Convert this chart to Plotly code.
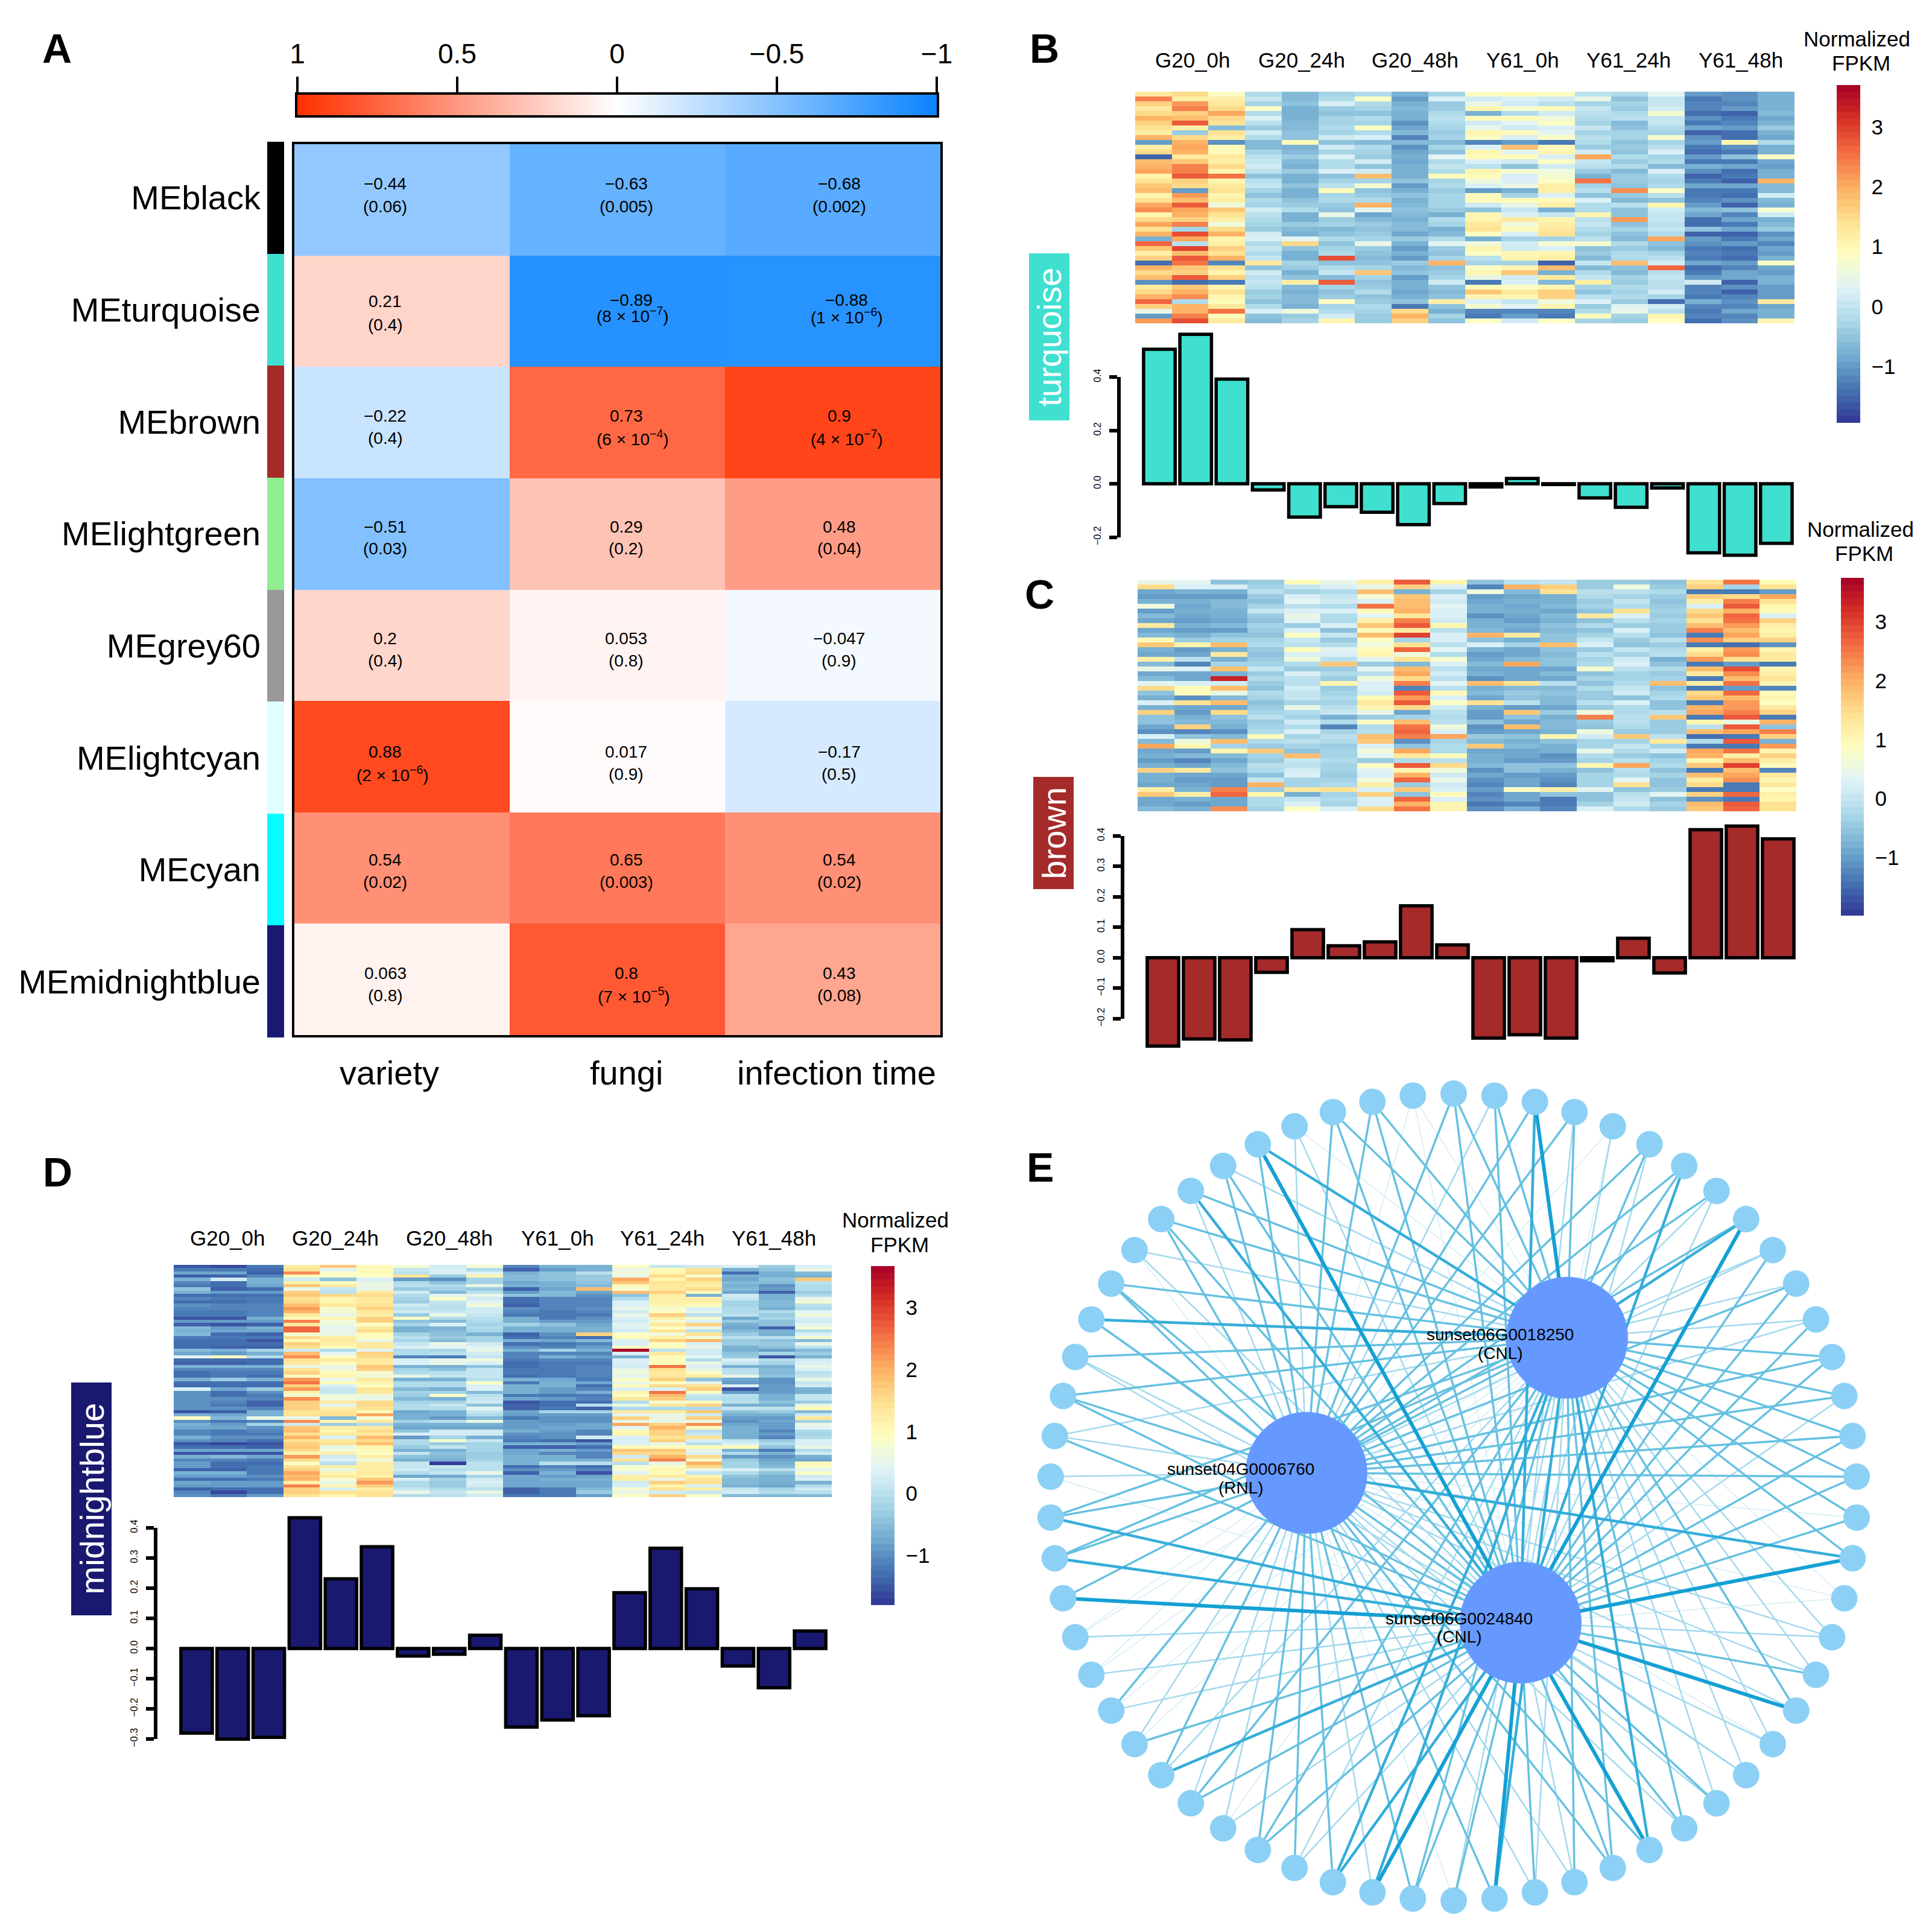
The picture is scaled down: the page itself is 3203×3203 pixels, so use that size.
import numpy as np
import plotly.graph_objects as go

# ---------- Panel A data ----------
MODULES = ["MEblack", "MEturquoise", "MEbrown", "MElightgreen", "MEgrey60", "MElightcyan", "MEcyan", "MEmidnightblue"]
MODULE_COLORS = ["#000000", "#40E0D0", "#A52A2A", "#90EE90", "#999999", "#E0FFFF", "#00FFFF", "#191970"]
TRAITS = ["variety", "fungi", "infection time"]
CORR = [[-0.44, -0.63, -0.68], [0.21, -0.89, -0.88], [-0.22, 0.73, 0.9], [-0.51, 0.29, 0.48],
        [0.2, 0.053, -0.047], [0.88, 0.017, -0.17], [0.54, 0.65, 0.54], [0.063, 0.8, 0.43]]
CORR_TEXT = [["−0.44", "−0.63", "−0.68"], ["0.21", "−0.89", "−0.88"], ["−0.22", "0.73", "0.9"], ["−0.51", "0.29", "0.48"],
             ["0.2", "0.053", "−0.047"], ["0.88", "0.017", "−0.17"], ["0.54", "0.65", "0.54"], ["0.063", "0.8", "0.43"]]
PVAL_TEXT = [["(0.06)", "(0.005)", "(0.002)"],
             ["(0.4)", "(8 × 10<sup>−7</sup>)", "(1 × 10<sup>−6</sup>)"],
             ["(0.4)", "(6 × 10<sup>−4</sup>)", "(4 × 10<sup>−7</sup>)"],
             ["(0.03)", "(0.2)", "(0.04)"], ["(0.4)", "(0.8)", "(0.9)"],
             ["(2 × 10<sup>−6</sup>)", "(0.9)", "(0.5)"], ["(0.02)", "(0.003)", "(0.02)"],
             ["(0.8)", "(7 × 10<sup>−5</sup>)", "(0.08)"]]
CB_TICKS = [1, 0.5, 0, -0.5, -1]
CB_LABELS = ["1", "0.5", "0", "−0.5", "−1"]

# ---------- Panels B/C/D data ----------
GROUPS = ["G20_0h", "G20_24h", "G20_48h", "Y61_0h", "Y61_24h", "Y61_48h"]
BARS_B = [.504, .56, .392, -.023, -.125, -.086, -.107, -.153, -.074, -.012, .02, -.003, -.053, -.088, -.016, -.259, -.268, -.223]
BARS_C = [-.29, -.267, -.27, -.048, .092, .039, .052, .17, .042, -.264, -.253, -.264, -.01, .064, -.05, .42, .432, .39]
BARS_D = [-.28, -.30, -.294, .433, .231, .337, -.025, -.019, .044, -.26, -.237, -.223, .185, .332, .198, -.058, -.13, .058]

# heatmap values in tenths of normalized FPKM
HEAT_B = [
[13,15,8,-2,-6,-3,-2,-7,-3,8,9,8,-1,-2,4,-10,-11,-8],[24,12,12,0,-6,-2,8,-10,3,1,3,2,5,-5,0,-13,-11,-8],
[16,22,13,-3,-5,3,-2,-7,-4,5,1,-1,-3,-3,0,-12,-12,-7],[13,24,15,8,-7,-4,-3,-6,-4,11,7,9,0,-4,1,-12,-10,-7],
[15,16,21,-2,-7,-5,-5,-8,-2,-7,-2,2,-1,-2,7,-14,-15,-6],[20,18,15,3,-8,-3,-2,-8,-1,9,9,6,-2,-1,0,-11,-13,-9],
[16,27,14,-1,-6,-3,-3,-11,-2,2,4,8,-3,-6,0,-13,-12,-7],[14,12,-6,-4,-6,-2,8,-9,-3,5,1,3,0,-5,-2,-9,-10,-4],
[12,-4,14,1,-5,-3,-2,-6,-4,11,9,4,-3,-3,-3,-15,-14,-8],[20,15,12,-2,-5,1,3,-12,-3,8,3,8,-1,-3,7,-11,-14,-9],
[-10,20,-11,-6,9,-5,-6,-6,-6,-12,-10,-13,-2,-5,-3,-10,10,-2],[12,21,9,-6,-7,2,-2,-11,-3,3,18,9,-4,-4,-1,-13,-11,-8],
[15,19,9,-3,-6,-3,-3,-9,-5,11,4,11,1,-5,3,-14,-13,-8],[-16,13,13,-1,-4,3,-4,-7,4,9,9,3,21,-2,-3,-10,-5,8],
[18,17,12,0,-6,-2,2,-9,-2,3,1,8,0,-4,-2,-13,-13,-9],[19,24,15,2,-7,-2,-5,-8,0,-1,-5,2,-1,-2,-6,-8,-9,-10],
[21,24,11,-1,-4,3,1,-8,-2,10,7,6,-4,-6,3,-11,-14,-8],[10,27,25,-5,-8,-5,18,-7,9,9,3,7,-7,-4,-2,-15,-13,-7],
[14,16,11,-1,-7,-3,-3,-5,-3,6,3,8,25,-4,-3,-13,-15,20],[17,15,13,0,-5,-1,7,-10,-2,3,5,12,-3,-5,-2,-9,-9,-6],
[18,-10,14,-3,-7,9,-5,-8,-4,-10,-8,12,-1,23,8,-13,-13,-6],[11,22,11,-5,-8,-3,-4,-5,-3,9,-3,3,-5,-4,-1,-13,-14,2],
[14,18,12,-2,-5,-2,-2,-8,-3,9,9,9,3,-6,-5,-12,-11,-6],[21,27,6,-3,-4,-4,20,-6,-3,2,5,12,-2,-1,10,-10,-15,-7],
[23,21,17,2,-2,-5,4,-5,-4,-5,0,-8,-2,-5,2,-6,-5,7],[11,20,14,-1,-7,5,-9,-6,-8,10,3,0,10,-5,0,-9,-12,2],
[15,16,12,-2,-7,-4,-6,-7,-2,11,13,11,-1,22,0,-14,-9,-8],[21,24,6,-3,-4,-3,-4,-6,-3,13,6,12,0,-5,-1,-14,-13,-6],
[14,-3,15,-4,-6,-6,-5,-6,-7,14,9,13,-2,-3,0,-5,-9,-4],[19,28,20,1,-7,-5,-4,-9,-6,8,3,14,-3,-5,-2,-15,-15,-11],
[-8,21,10,3,4,-2,-3,-4,-2,-7,-3,-3,-1,-6,21,-10,-13,-9],[26,-1,12,-2,15,-5,5,-8,4,6,1,7,7,-2,-5,-11,-10,-12],
[17,30,16,0,-5,-3,-4,-10,-4,10,2,3,-5,-4,-6,-13,-14,-9],[12,18,14,-2,-8,-2,-5,-8,-5,8,11,10,-4,-2,-3,-12,-13,-10],
[16,27,19,0,-7,28,-6,-10,-3,-1,11,12,-6,-2,-1,-13,-14,-8],[-14,25,-12,13,-3,-5,-5,-4,19,-3,-3,-15,0,18,2,-9,-10,8],
[20,17,14,-5,-4,-2,-3,-6,-5,8,10,18,-6,-5,26,-14,-12,-9],[15,16,10,1,-7,0,17,-5,-4,10,17,-8,-2,-6,-1,-13,-9,-10],
[18,27,16,-1,-5,-6,-3,-10,-3,5,1,13,0,-3,0,-10,-9,-8],[-11,-14,-13,0,12,27,-5,-7,1,-13,3,-6,12,-4,-1,1,-15,-8],
[13,17,10,-1,-6,-3,-4,-7,-5,9,8,10,-3,-2,-1,-12,-11,-10],[15,19,14,-4,-7,-5,-2,-9,-6,17,13,16,-5,-3,1,-12,-15,-10],
[19,23,11,-3,-6,-4,-5,-7,-5,11,10,16,-1,-2,-3,-13,-12,-10],[26,-2,9,-5,-6,8,-4,-5,12,3,0,6,3,-4,-14,-7,-11,13],
[16,19,13,-2,-8,-3,-2,-13,-5,7,4,11,-4,4,2,-12,-12,-9],[5,20,25,3,6,-2,-3,15,-7,-12,-12,-12,-2,5,-1,-13,-9,-7],
[-10,24,9,-5,-4,1,-4,19,-3,-13,-10,-13,9,-3,10,-12,-12,-8],[22,28,13,-6,-3,11,-4,16,-5,8,1,8,-3,-4,8,-14,-11,10]]

HEAT_C = [
[5,4,-5,-4,9,5,12,28,10,-6,-1,0,-4,-4,-5,14,25,9],[15,3,3,-3,0,3,5,16,3,-12,20,16,-4,6,-4,16,-3,14],
[-9,-8,-8,-1,-3,-2,18,-8,-3,6,-7,14,-1,-1,-2,-13,-14,-10],[-10,-10,-10,-4,3,0,7,17,2,-10,-9,-8,-2,-3,-4,16,15,21],
[-8,-8,-7,-5,4,1,3,19,1,-9,-8,-8,-4,0,-5,12,24,14],[6,-9,-7,-3,-1,-2,25,18,4,-8,-9,-7,-3,-2,-4,3,28,10],
[-10,-8,-8,0,3,2,9,20,3,-8,-8,-9,-5,14,-3,15,20,9],[-7,-9,-8,-4,5,-2,4,13,3,-11,-9,-7,13,3,-4,17,26,3],
[-9,-10,-9,-5,4,-2,12,24,1,-8,-10,-8,-6,-1,-3,14,25,16],[13,-8,-7,-3,-4,3,17,28,10,-8,-8,-5,-2,-4,-4,19,22,12],
[-9,-10,-10,-4,3,-6,9,13,-1,-7,-9,-7,-5,2,-4,24,19,10],[-7,-8,-6,-6,8,0,19,30,2,20,13,-6,-3,-1,-6,-13,21,12],
[9,-4,-3,-3,0,-4,8,-3,3,-6,-8,-5,0,-4,-1,23,16,16],[17,10,18,-2,-1,-2,6,14,-1,3,-3,18,2,-5,-4,-14,-15,-11],
[-8,-10,-8,-4,9,4,9,26,4,-8,-9,-6,-4,0,-2,12,22,11],[-9,-9,13,-5,2,2,11,6,-2,-10,-9,-7,-1,-3,-1,15,23,13],
[12,-1,-8,-4,6,-1,4,14,7,-9,-7,-5,-3,1,-8,22,14,13],[-7,-12,-3,-3,-2,17,-4,-7,3,-7,21,-6,-2,2,-5,-14,-10,-13],
[5,3,18,0,-4,-4,4,19,-1,-9,-9,-9,7,-1,-2,18,29,10],[-9,-9,-8,-4,3,-2,-1,21,1,-8,-9,-7,-5,-3,-4,13,23,12],
[-7,-9,33,-2,-1,-4,6,15,-1,-11,-9,-9,-3,-3,-3,-13,18,14],[4,2,1,-4,-1,11,2,24,4,18,14,-1,-6,-2,18,12,25,10],
[15,9,18,-5,1,-4,3,-12,-1,-8,-7,-7,-2,0,-5,-13,-10,-12],[-5,9,5,-2,0,-3,1,28,9,-7,-4,-6,-4,1,-3,15,26,9],
[-8,-11,-7,-3,0,-2,9,22,2,-9,-5,-7,-4,-5,-2,17,19,10],[3,14,19,-5,-3,-3,13,28,8,14,-1,-7,-1,3,-5,-14,22,8],
[-8,-9,-9,-4,5,-1,10,15,1,-8,-10,-9,-4,-2,-6,20,22,13],[16,-10,15,-3,-2,0,5,-9,-1,-10,17,-4,6,-2,-1,21,24,16],
[-6,-8,-6,-1,-3,-8,-4,-3,-2,-10,-5,-8,24,-1,17,-14,28,-13],[-6,-7,-7,-4,1,-2,8,18,-1,-6,-9,-7,-4,-1,-4,10,5,20],
[-9,16,-8,-3,-2,-12,-2,25,6,-11,19,-7,-5,-2,-4,-1,28,-5],[-11,-12,-11,-2,2,-3,-1,26,3,-10,-9,-8,6,-4,-4,18,21,24],
[2,-5,-7,9,-3,-1,18,24,21,-4,-5,10,1,17,-1,-15,-14,16],[-7,6,18,-2,-1,-2,17,-11,-3,-7,-8,-6,-3,-3,13,-2,28,-8],
[21,10,-3,-4,-3,-4,2,-6,-2,17,-7,-8,-3,0,-3,-14,-13,22],[-9,-10,10,17,-5,-3,6,21,-2,-9,-9,-8,5,-2,1,21,25,11],
[-8,-7,-7,-3,19,-3,4,13,9,-8,-9,-11,-2,-4,-5,20,12,16],[-10,-12,-9,-4,0,-2,-4,-2,-1,-8,-10,-10,-3,-1,-3,11,19,12],
[-8,-9,-7,-1,-1,-3,8,28,15,-7,-5,-5,10,21,-2,17,30,9],[16,13,-5,-2,1,-3,4,10,6,-11,-6,-8,-6,-1,-5,-13,18,-12],
[-8,-9,-9,-5,3,-4,2,20,1,-9,-10,-10,-3,-2,-3,18,21,13],[-8,-10,-10,0,-3,-3,6,26,5,-11,-9,-11,-3,4,-5,12,23,11],
[-9,-9,-10,20,-3,-2,12,-4,1,-12,-9,-12,-3,14,-5,15,-14,13],[12,-8,24,-4,13,14,3,17,3,-10,8,12,4,-6,-4,-13,-14,8],
[17,12,26,10,-8,-3,16,-5,9,-12,-9,-6,-6,-1,4,16,26,12],[-9,-8,-9,-2,0,-2,3,26,3,-11,-9,-13,-5,0,-5,-11,-14,10],
[-9,-10,-9,-2,3,-3,3,20,10,-13,-12,-14,-3,1,-3,18,28,14],[-7,-8,23,-3,8,2,15,25,10,-11,-8,-12,2,-2,-4,17,26,14]]

HEAT_D = [
[-15,-16,-12,12,18,10,8,2,8,-11,-6,-7,9,1,2,3,-3,3],[-12,-12,-13,14,4,10,1,3,-1,-14,-9,-7,5,10,14,-7,-4,6],
[-8,-8,-14,23,9,10,0,3,4,-7,-4,0,7,11,15,-13,-7,-5],[-14,-14,-11,10,9,9,14,-3,11,-5,-4,-3,5,15,8,-7,-6,-6],
[-6,2,-6,2,-4,3,-9,-10,-2,-5,-4,-3,21,11,17,-8,-4,18],[-11,-13,-7,12,9,6,-1,-4,-2,-8,-6,-4,18,14,13,-5,-5,0],
[-12,-13,-8,18,13,6,0,-1,5,-7,-7,-5,10,13,12,-6,-10,-1],[-4,-14,-13,6,1,5,-3,-2,-3,-14,-8,19,8,13,15,-5,-9,-1],
[-7,-9,-9,16,0,13,2,-5,0,-9,-5,-8,19,16,10,-8,-14,-3],[-13,-13,-13,18,15,15,-1,4,5,-4,-5,-10,-4,12,-6,2,-6,-1],
[-11,-12,-12,14,11,13,-2,9,2,-13,-11,-11,-1,12,12,1,-7,6],[-13,-13,-12,15,11,13,-3,1,4,-13,-11,-11,3,12,12,-2,-5,8],
[-10,-11,-11,19,13,14,2,0,7,-14,-11,-11,3,11,10,-2,-5,0],[-11,-11,-11,22,8,16,0,0,2,-10,-11,-10,5,8,3,-1,-6,-1],
[-12,-12,-11,20,8,13,2,1,2,-11,-12,-11,2,9,4,-1,-1,4],[-12,-12,-11,13,5,12,-3,5,1,-12,-12,-12,6,17,0,0,-3,7],
[-15,-15,-6,10,11,17,9,-1,0,-6,-12,-10,3,12,8,-8,-2,3],[-9,-9,-9,24,7,16,-4,-5,-1,-7,-9,-9,2,8,3,-3,-4,2],
[-14,-15,-14,13,7,9,-2,3,-2,-2,-4,-8,4,13,17,-6,-4,4],[-5,-9,-6,26,4,13,-6,-7,-1,-6,-7,-7,3,9,5,-8,-14,8],
[-6,-8,-8,26,5,15,-6,-5,-2,-7,-7,-7,2,14,0,-5,-7,-1],[-5,-13,-14,8,5,10,-2,-4,-7,-14,-10,17,9,7,14,-3,-6,3],
[-12,-12,-12,15,12,10,0,-3,-2,-13,-11,-13,10,12,7,0,0,8],[-13,-13,-15,10,13,5,-2,-5,-2,-6,-8,-5,3,17,20,-3,-4,-5],
[-13,-13,-13,16,12,13,1,5,2,-13,-12,-11,3,9,3,-3,-3,5],[-13,-14,-14,14,10,13,3,4,4,-10,-11,-9,9,10,5,-6,-4,0],
[-5,-7,-2,2,-1,4,-1,-2,6,-7,-2,-6,36,0,2,-6,-9,-5],[-8,-9,-6,19,4,17,-1,0,2,-11,-11,-11,3,13,2,-4,-2,-3],
[4,9,-1,23,9,15,-11,-12,1,-11,-6,-9,-6,10,4,-3,-15,-6],[-13,-13,-13,14,13,13,3,5,7,-12,-11,-11,3,10,-1,3,-1,2],
[-14,-14,-13,13,10,13,3,5,3,-13,-12,-12,3,10,5,1,-2,3],[-6,-6,-7,5,6,18,-7,-6,-4,-13,-12,-11,2,25,3,-6,-7,6],
[-11,-11,-11,14,7,17,-2,-4,1,-12,-12,-11,6,14,5,0,-5,3],[-13,-12,-12,17,10,8,-1,0,1,-12,-12,-11,7,13,9,0,-5,0],
[-13,-12,-13,9,11,7,5,1,1,-13,-12,-11,4,13,13,6,-4,1],[-7,-3,-7,22,5,13,-6,-6,0,-7,-8,-12,9,16,-4,-8,-10,6],
[-13,-13,-13,25,10,11,-1,-1,9,-12,-7,-8,6,9,6,-9,-10,1],[-13,-13,-13,16,3,9,-1,-1,3,-7,-7,-13,10,15,14,3,-9,2],
[3,-8,-3,22,1,14,-5,-6,3,-6,-9,-11,3,3,16,-15,-9,-6],[-10,-13,-10,11,1,13,-2,-2,-5,-6,-9,-6,11,25,9,-9,-9,-7],
[-10,-13,-12,8,7,7,-3,9,0,-12,-12,-12,9,19,1,0,-6,1],[-10,-10,-11,23,7,6,-5,-6,1,-8,-9,-11,13,16,0,-1,-7,1],
[-10,-11,-14,16,13,15,-2,-2,2,-15,-13,-13,-1,8,9,0,-4,-3],[-10,-12,-14,16,4,15,-1,1,-4,-14,-13,0,6,13,16,-6,-6,5],
[-10,-10,-11,17,12,14,-1,-1,4,-14,-12,-14,-1,-1,-1,1,0,10],[-15,-14,-7,14,14,10,-8,-6,1,-8,-2,-2,13,13,18,-4,-3,-5],
[-6,-8,-7,14,14,21,-6,-7,-1,-9,-9,-9,4,6,2,-7,-7,2],[9,-5,5,5,-5,8,-7,-9,-5,-12,-10,-10,17,6,17,-9,-9,13],
[-10,-12,-11,23,11,13,-2,0,6,-9,-10,-10,6,6,6,-10,-8,-2],[-6,-9,-2,2,-3,-1,-7,-7,-7,-9,-9,-8,21,16,23,-8,-9,6],
[-8,-8,-10,18,12,13,-8,-8,-8,-9,-8,-8,4,20,10,-6,-9,4],[-11,-12,-11,19,11,15,-4,2,2,-6,-9,-11,10,16,0,-7,-11,-1],
[-11,-12,-12,14,13,13,3,2,2,-10,-10,-11,11,16,1,-6,-9,-2],[-6,-10,-10,20,3,19,-9,-2,-6,-11,-10,2,3,14,14,-7,-11,-1],
[-10,-11,-13,14,13,15,-1,8,1,-12,-13,-15,3,16,3,1,-3,3],[-15,-16,-15,16,14,19,-1,-3,-2,-6,-6,-9,3,6,0,3,-1,3],
[-13,-13,-14,18,6,11,-3,1,-2,-14,-14,-13,10,10,10,10,-4,5],[-8,-8,-8,15,7,10,-6,-6,-2,-8,-7,-9,18,18,6,-7,-12,-1],
[-15,-15,-15,11,12,9,1,-4,-3,-8,-11,-11,15,15,3,-1,-7,2],[-7,-5,-8,22,2,12,-4,-5,-3,-7,-6,-11,2,20,15,-9,-10,-6],
[-11,-11,-12,15,3,7,-6,-6,-2,-7,-6,-7,14,24,8,-3,-8,-8],[-9,-13,-13,9,0,12,1,-17,0,-7,0,0,0,6,20,-2,-6,10],
[-9,-13,-12,14,12,12,1,1,0,-13,-11,-13,8,9,15,-2,-5,9],[-14,-14,-12,17,6,12,2,-1,0,-10,-9,-11,8,11,6,3,0,4],
[-7,-6,-12,21,11,13,-1,1,6,-14,-7,-15,4,10,1,-1,-4,9],[-9,-9,-10,19,13,12,-8,-8,-2,-8,-9,-8,12,13,11,-4,-7,2],
[-13,-13,-12,20,8,18,3,-2,2,-8,-7,-7,12,6,14,-5,-7,3],[-8,-9,-9,12,5,22,-1,-3,3,-8,-8,-8,2,17,14,-5,-6,-7],
[-9,-9,-9,24,11,17,-1,-3,2,-8,-8,-8,3,11,3,-6,-8,-1],[-14,-13,-13,17,3,12,1,-1,0,-14,-12,-5,8,14,12,1,-2,2],
[-11,-16,-13,17,14,14,6,1,6,-14,-12,-3,5,2,1,2,-1,0],[-10,-12,-9,14,11,14,-1,0,2,-12,-12,-9,9,17,9,-5,-5,-5]]

# ---------- Panel E data ----------
HUB_X = [0.281, -0.365, 0.166]
HUB_Y = [0.395, 0.060, -0.311]
HUB_NAMES = ["sunset06G0018250", "sunset04G0006760", "sunset06G0024840"]
HUB_TYPES = ["(CNL)", "(RNL)", "(CNL)"]
# edge strength (0-5) from each of the 62 outer genes, clockwise from the top, to each hub
EDGE_H1 = [3,3,5,3,1,3,3,2,4,2,2,2,3,3,3,3,3,3,1,2,2,3,2,2,2,3,4,3,3,2,4,2,3,4,4,2,3,1,3,2,1,1,1,1,3,3,3,0,2,3,3,4,3,2,3,3,2,4,1,3,3,1]
EDGE_H2 = [3,2,3,3,1,3,3,3,3,2,3,2,3,3,3,3,1,4,1,2,2,2,1,2,2,2,3,3,2,2,3,1,3,2,3,3,3,2,2,3,2,3,1,1,2,3,3,2,2,3,2,3,3,1,3,2,3,3,2,3,3,1]
EDGE_H3 = [3,3,4,2,2,2,4,2,5,3,3,3,3,2,3,3,3,5,1,2,3,5,2,2,3,3,5,3,2,3,5,3,3,5,4,2,3,2,3,4,3,2,2,2,5,4,4,1,3,3,2,3,3,2,3,4,3,5,2,3,3,1]

# the page body keeps an 8px margin, so the figure is 3187px placed at (8, 8)
W = 3187
PAD = 8
FONT = "Liberation Sans"
OV = 2.04  # reference overview px to page px


def fx(p):
    return (p - PAD) / W


def fy(p):
    return 1 - (p - PAD) / W


def dx(a, b):
    return [fx(a), fx(b)]


def dy(top, bottom):
    return [fy(bottom), fy(top)]


RDYLBU = ["#313695", "#4575B4", "#74ADD1", "#ABD9E9", "#E0F3F8", "#FFFFBF", "#FEE090", "#FDAE61", "#F46D43", "#D73027", "#A50026"]


def stepped(n=50):
    rgb = np.array([[int(c[i:i + 2], 16) for i in (1, 3, 5)] for c in RDYLBU], float)
    out = []
    for i in range(n):
        t = (i + 0.5) / n * 10
        k = min(int(t), 9)
        c = rgb[k] + (rgb[k + 1] - rgb[k]) * (t - k)
        s = "rgb(%d,%d,%d)" % tuple(c)
        out += [[i / n, s], [(i + 1) / n, s]]
    return out


HEAT_SCALE = stepped()
CORR_SCALE = [[0, "#0A84FF"], [0.5, "#FFFFFF"], [1, "#FF3000"]]

fig = go.Figure()
layout = {}
HIDE = dict(visible=False, fixedrange=True)


def axes(n, xd, yd, xkw=None, ykw=None):
    s = "" if n == 1 else str(n)
    xk = dict(HIDE)
    yk = dict(HIDE)
    xk.update(domain=xd, anchor="y" + s)
    yk.update(domain=yd, anchor="x" + s)
    xk.update(xkw or {})
    yk.update(ykw or {})
    layout["xaxis" + s] = xk
    layout["yaxis" + s] = yk
    return "x" + s, "y" + s


notes = []
shapes = []


def note(text, x, y, size, color="black", angle=0, bold=False, family=FONT):
    notes.append(dict(text="<b>%s</b>" % text if bold else text, x=fx(x), y=fy(y), xref="paper", yref="paper",
                      xanchor="center", yanchor="middle", showarrow=False, textangle=angle,
                      font=dict(family=family, size=size, color=color)))


# ---------- Panel A ----------
xa, ya = axes(1, dx(488, 1559), dy(239, 1716),
              dict(visible=True, showline=True, mirror=True, linewidth=4, linecolor="black", showticklabels=False, ticks="", showgrid=False, zeroline=False, range=[-0.5, 2.5]),
              dict(visible=True, showline=True, mirror=True, linewidth=4, linecolor="black", showticklabels=False, ticks="", showgrid=False, zeroline=False, range=[7.5, -0.5]))
fig.add_trace(go.Heatmap(z=CORR, x=[0, 1, 2], y=list(range(8)), zmin=-1, zmax=1, colorscale=CORR_SCALE, showscale=False, hoverinfo="skip", xaxis=xa, yaxis=ya))

strip_scale = []
for i, c in enumerate(MODULE_COLORS):
    strip_scale += [[i / 8, c], [(i + 1) / 8, c]]
xs, ys = axes(2, dx(443, 471), dy(235, 1720), None,
              dict(visible=True, showline=False, ticks="", showgrid=False, zeroline=False, autorange="reversed", type="category",
                   ticklabelstandoff=10, tickfont=dict(family=FONT, size=56, color="black")))
fig.add_trace(go.Heatmap(z=[[i] for i in range(8)], y=MODULES, x=[0], zmin=-0.5, zmax=7.5, colorscale=strip_scale, showscale=False, hoverinfo="skip", xaxis=xs, yaxis=ys))

xc, yc = axes(3, dx(493, 1553), dy(157, 191),
              dict(visible=True, side="top", range=[1, -1], showline=True, mirror=True, linewidth=4, linecolor="black", ticks="outside", ticklen=26, tickwidth=4,
                   tickcolor="black", tickvals=CB_TICKS, ticktext=CB_LABELS, showgrid=False, zeroline=False, ticklabelstandoff=4, tickfont=dict(family=FONT, size=46, color="black")),
              dict(visible=True, showline=True, mirror=True, linewidth=4, linecolor="black", ticks="", showticklabels=False, showgrid=False, zeroline=False, range=[-0.5, 0.5]))
cb_x = np.linspace(1, -1, 201)
fig.add_trace(go.Heatmap(z=[cb_x], x=cb_x, y=[0], zmin=-1, zmax=1, colorscale=CORR_SCALE, showscale=False, hoverinfo="skip", xaxis=xc, yaxis=yc))

R_X = [[313, 509, 682], [313, 513, 688], [313, 509, 682], [313, 509, 682], [313, 509, 682], [313, 509, 682], [313, 509, 682], [313, 509, 682]]
P_X = [[313, 509, 682], [313, 514, 688], [313, 514, 688], [313, 509, 682], [313, 509, 682], [319, 509, 682], [313, 509, 682], [313, 515, 682]]
R_Y = [[149.5] * 3, [245, 244, 244], [338] * 3, [428] * 3, [519] * 3, [611] * 3, [699] * 3, [791] * 3]
P_Y = [[168] * 3, [264, 256, 257], [356] * 3, [446] * 3, [537] * 3, [629] * 3, [717] * 3, [809] * 3]
for r in range(8):
    for c in range(3):
        note(CORR_TEXT[r][c], R_X[r][c] * OV, R_Y[r][c] * OV, 28)
        note(PVAL_TEXT[r][c], P_X[r][c] * OV, P_Y[r][c] * OV, 28)
for t, x in zip(TRAITS, [645, 1038, 1387]):
    note(t, x, 1778, 56)


# ---------- Panels B, C, D ----------
def panel(n, heat, bars, color, hx, hy, bx, y0, unit, yrange, spine_x, spine_ticks, cbx, cby, zr, label_x, label_y, side_box, side_text, norm_pos):
    x1, y1 = axes(n, dx(*hx), dy(*hy), dict(range=[-0.5, 17.5]), dict(range=[len(heat) - 0.5, -0.5]))
    fig.add_trace(go.Heatmap(z=(np.array(heat) / 10.0).tolist(), zmin=zr[0], zmax=zr[1], colorscale=HEAT_SCALE, hoverinfo="skip", xaxis=x1, yaxis=y1,
                             colorbar=dict(x=fx(cbx[0]), xanchor="left", xpad=0, ypad=0, thicknessmode="pixels", thickness=cbx[1] - cbx[0],
                                           lenmode="pixels", len=cby[1] - cby[0], y=fy((cby[0] + cby[1]) / 2), yanchor="middle",
                                           outlinewidth=0, tickvals=[-1, 0, 1, 2, 3], ticktext=["−1", "0", "1", "2", "3"], ticks="outside", ticklen=12,
                                           tickcolor="rgba(0,0,0,0)", tickfont=dict(family=FONT, size=35, color="black"))))
    top = y0 - yrange[1] * unit
    bot = y0 - yrange[0] * unit
    x2, y2 = axes(n + 1, dx(*bx), dy(top, bot), dict(range=[-0.5, 17.5]), dict(range=yrange))
    fig.add_trace(go.Bar(x=list(range(18)), y=bars, marker=dict(color=color, line=dict(color="black", width=5.5)), hoverinfo="skip", xaxis=x2, yaxis=y2, showlegend=False))
    # short R-style axis spanning only the tick range
    s = {4: 10, 6: 11, 8: 12}[n]
    x3, y3 = axes(s, dx(*bx), dy(y0 - spine_ticks[-1] * unit, y0 - spine_ticks[0] * unit), dict(range=[-0.5, 17.5]),
                  dict(visible=True, anchor="free", position=fx(spine_x), range=[spine_ticks[0], spine_ticks[-1]], showline=True, linewidth=5.5, linecolor="black",
                       ticks="outside", ticklen=13, tickwidth=5.5, tickcolor="black", tickvals=spine_ticks, ticktext=[("%.1f" % v).replace("-", "−") for v in spine_ticks],
                       tickangle=-90, showgrid=False, zeroline=False, ticklabelstandoff=8, tickfont=dict(family=FONT, size=16, color="black")))
    fig.add_trace(go.Scatter(x=[None], y=[None], mode="markers", hoverinfo="skip", showlegend=False, xaxis=x3, yaxis=y3))
    if label_x:
        for g, lx in zip(GROUPS, label_x):
            note(g, lx, label_y, 35)
    shapes.append(dict(type="rect", xref="paper", yref="paper", x0=fx(side_box[0]), x1=fx(side_box[1]), y0=fy(side_box[2]), y1=fy(side_box[3]), fillcolor=color, line=dict(width=0), layer="below"))
    note(side_text, (side_box[0] + side_box[1]) / 2, (side_box[2] + side_box[3]) / 2, 56, color="white", angle=-90)
    note("Normalized", norm_pos[0], norm_pos[1], 35)
    note("FPKM", norm_pos[2], norm_pos[3], 35)


panel(4, HEAT_B, BARS_B, "#40E0D0", (1882, 2975), (152, 536), (1892, 2975), 802, 442.5, [-0.3, 0.6], 1855, [-0.2, 0, 0.2, 0.4],
      (3045, 3084), (141, 701), (-1.94, 3.70), [1977, 2158, 2346, 2524, 2700, 2886], 100, (1706, 1773, 420, 697), "turquoise", (3078, 64, 3085, 105))
panel(6, HEAT_C, BARS_C, "#A52A2A", (1886, 2978), (961, 1345), (1898, 2978), 1587.7, 505, [-0.3, 0.45], 1861, [-0.2, -0.1, 0, 0.1, 0.2, 0.3, 0.4],
      (3052, 3090), (958, 1518), (-1.98, 3.74), None, None, (1713, 1780, 1288, 1474), "brown", (3084, 877, 3090, 918))
panel(8, HEAT_D, BARS_D, "#191970", (288, 1379), (2097, 2482), (296, 1373), 2733, 500.5, [-0.35, 0.45], 258, [-0.3, -0.2, -0.1, 0, 0.1, 0.2, 0.3, 0.4],
      (1444, 1483), (2099, 2661), (-1.80, 3.67), [377, 556, 745, 924, 1098, 1283], 2052, (118, 185, 2292, 2678), "midnightblue", (1484, 2022, 1491, 2063))

# ---------- Panel E ----------
CX, CY, R = 2410, 2482, 669
xn, yn = axes(13, dx(CX - 750, CX + 750), dy(CY - 710, CY + 710), dict(range=[-750 / R, 750 / R]), dict(range=[-710 / R, 710 / R]))
angles = np.deg2rad(90 - np.arange(62) * 360 / 62)
NX, NY = np.cos(angles), np.sin(angles)
EDGE_STYLE = {1: ("#D3EDF6", 1.5), 2: ("#A2D9ED", 2.5), 3: ("#66C1E1", 3.5), 4: ("#35ADD9", 4.5), 5: ("#14A0D4", 6)}
for level, (col, wid) in EDGE_STYLE.items():
    ex, ey = [], []
    for h, weights in enumerate([EDGE_H1, EDGE_H2, EDGE_H3]):
        for i, w in enumerate(weights):
            if w == level:
                ex += [NX[i], HUB_X[h], None]
                ey += [NY[i], HUB_Y[h], None]
    fig.add_trace(go.Scatter(x=ex, y=ey, mode="lines", line=dict(color=col, width=wid), hoverinfo="skip", showlegend=False, xaxis=xn, yaxis=yn))
fig.add_trace(go.Scatter(x=NX, y=NY, mode="markers", marker=dict(size=44, color="#8CD1F5"), hoverinfo="skip", showlegend=False, xaxis=xn, yaxis=yn, cliponaxis=False))
fig.add_trace(go.Scatter(x=HUB_X, y=HUB_Y, mode="markers", marker=dict(size=202, color="#6699FF"), hoverinfo="skip", showlegend=False, xaxis=xn, yaxis=yn, cliponaxis=False))
HUB_LABEL = [(2487, 2212, 2243), (2057, 2435, 2466), (2419, 2683, 2713)]
for name, typ, (lx, ly1, ly2) in zip(HUB_NAMES, HUB_TYPES, HUB_LABEL):
    note(name, lx, ly1, 28)
    note(typ, lx, ly2, 28)

# ---------- Panel letters ----------
for letter, x, y in [("A", 94, 80), ("B", 1731, 80), ("C", 1723, 985), ("D", 95, 1943), ("E", 1724, 1935)]:
    note(letter, x, y, 68, bold=True)

fig.update_layout(width=W, height=W, margin=dict(l=0, r=0, t=0, b=0, autoexpand=False), paper_bgcolor="white", plot_bgcolor="rgba(0,0,0,0)",
                  showlegend=False, bargap=0.13, annotations=notes, shapes=shapes, **layout)
fig.write_html("out.html", config={"displayModeBar": False})
